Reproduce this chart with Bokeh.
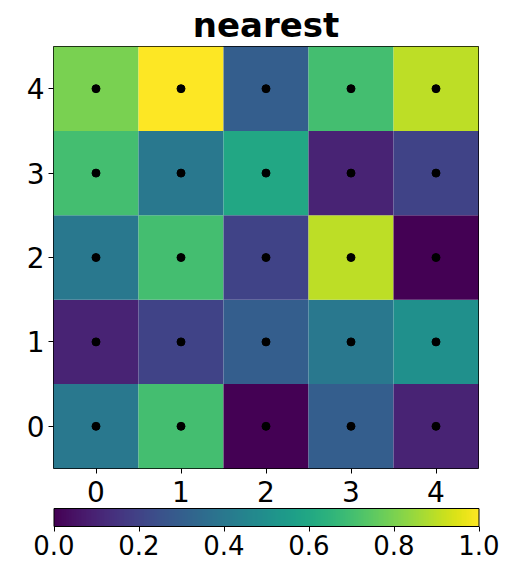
from bokeh.plotting import figure
from bokeh.models import LinearColorMapper, ColorBar, FixedTicker, ColumnDataSource, PrintfTickFormatter
from bokeh.palettes import Viridis256
from bokeh.embed import file_html
from bokeh.resources import INLINE

# grid values, rows from y=0 (bottom) to y=4 (top)
row0 = [0.4, 0.7, 0.0, 0.3, 0.1]
row1 = [0.1, 0.2, 0.3, 0.4, 0.5]
row2 = [0.4, 0.7, 0.2, 0.9, 0.0]
row3 = [0.7, 0.4, 0.6, 0.1, 0.2]
row4 = [0.8, 1.0, 0.3, 0.7, 0.9]
rows = [row0, row1, row2, row3, row4]
x_ticks = [0, 1, 2, 3, 4]
y_ticks = [0, 1, 2, 3, 4]
cbar_ticks = [0.0, 0.2, 0.4, 0.6, 0.8, 1.0]

xs, ys, vals = [], [], []
for j, r in enumerate(rows):
    for i, v in enumerate(r):
        xs.append(x_ticks[i]); ys.append(y_ticks[j]); vals.append(v)
src = ColumnDataSource(dict(x=xs, y=ys, v=vals))

mapper = LinearColorMapper(palette=Viridis256, low=0.0, high=1.0)

FONT = "DejaVu Sans"
p = figure(width=508, height=561, x_range=(-0.5, 4.5), y_range=(-0.5, 4.5),
           output_backend="svg", toolbar_location=None,
           min_border_left=53, min_border_right=30, min_border_top=45, min_border_bottom=92)
p.title.text = "nearest"
p.title.align = "center"
p.title.text_font = FONT
p.title.text_font_size = "34px"
p.title.text_font_style = "bold"
p.title.text_color = "black"
p.title.offset = 0
p.title.standoff = 4

p.rect(x="x", y="y", width=1, height=1, source=src,
       fill_color={"field": "v", "transform": mapper}, line_color=None)
p.scatter(x="x", y="y", source=src, size=8, color="black")

p.grid.visible = False
p.outline_line_color = "black"
p.outline_line_width = 1
for ax in (p.xaxis, p.yaxis):
    ax.major_label_text_font = FONT
    ax.major_label_text_font_size = "28px"
    ax.major_label_text_color = "black"
    ax.minor_tick_line_color = None
    ax.major_tick_in = 0
    ax.major_tick_out = 5
    ax.major_tick_line_color = "black"
    ax.axis_line_color = None
p.xaxis.ticker = FixedTicker(ticks=x_ticks)
p.yaxis.ticker = FixedTicker(ticks=y_ticks)
p.xaxis.major_label_standoff = 7
p.yaxis.major_label_standoff = 4

cb = ColorBar(color_mapper=mapper, orientation="horizontal", width=425, height=18,
              location="top_center",
              ticker=FixedTicker(ticks=cbar_ticks), padding=4, margin=0,
              formatter=PrintfTickFormatter(format="%.1f"),
              major_label_text_font=FONT, major_label_text_font_size="26px",
              major_label_text_color="black",
              major_tick_in=0, major_tick_out=5, major_tick_line_color="black",
              bar_line_color="black", bar_line_width=1,
              border_line_color=None, background_fill_alpha=0,
              label_standoff=3)
p.add_layout(cb, "below")

open("out.html", "w").write(file_html(p, INLINE))
